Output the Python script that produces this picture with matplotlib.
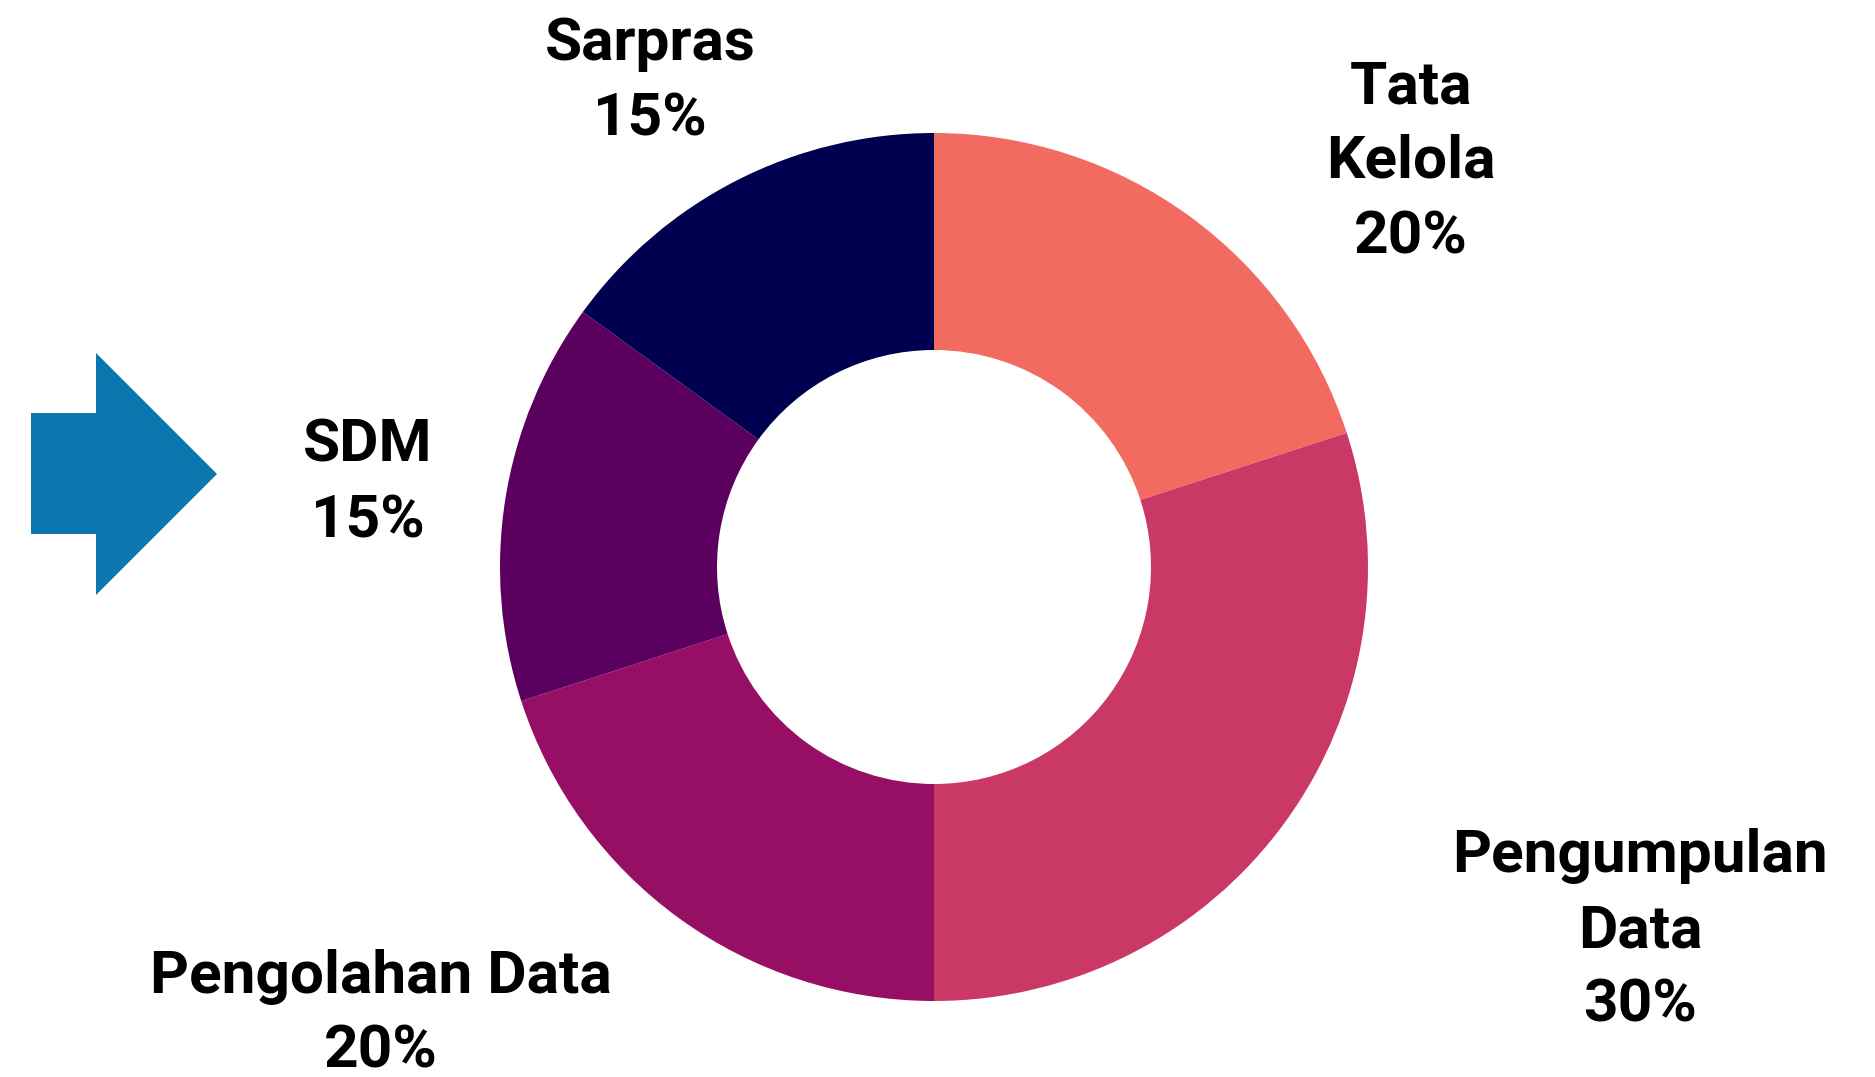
import matplotlib
matplotlib.use("Agg")
import matplotlib.pyplot as plt
from matplotlib.patches import Polygon

categories = ["Tata Kelola", "Pengumpulan Data", "Pengolahan Data", "SDM", "Sarpras"]
values = [20, 30, 20, 15, 15]
label_lines = [["Tata", "Kelola", "20%"],
               ["Pengumpulan", "Data", "30%"],
               ["Pengolahan Data", "20%"],
               ["SDM", "15%"],
               ["Sarpras", "15%"]]
colors = ["#F26B61", "#CA3966", "#970E65", "#5B005E", "#000050"]

W, H = 1875, 1077
fig = plt.figure(figsize=(W / 100, H / 100), dpi=100)
ax = fig.add_axes([0, 0, 1, 1])

cx, cy = 934, H - 567
R = 434
ax.pie(values, colors=colors, startangle=90, counterclock=False,
       center=(cx, cy), radius=R,
       wedgeprops=dict(width=217, linewidth=0))

# label positions in pixel coords (center x, first baseline y)
label_pos = [(1411, 103), (1640, 872), (381, 993), (368, 462), (650, 60)]
line_gap = 75
for lines, (lx, ly) in zip(label_lines, label_pos):
    for k, t in enumerate(lines):
        ax.text(lx, H - (ly + k * line_gap), t, ha="center", va="baseline",
                fontsize=43.5, fontweight="bold", family=["Roboto", "DejaVu Sans"],
                color="black")

# arrow shape
arrow_pts = [(31, 413), (96, 413), (96, 353), (217, 474), (96, 595), (96, 534), (31, 534)]
ax.add_patch(Polygon([(x, H - y) for x, y in arrow_pts], closed=True,
                     facecolor="#0A77AE", edgecolor="none"))

ax.set_xlim(0, W)
ax.set_ylim(0, H)
ax.set_aspect("equal")
ax.axis("off")
fig.savefig("out.png", dpi=100, facecolor="white")
